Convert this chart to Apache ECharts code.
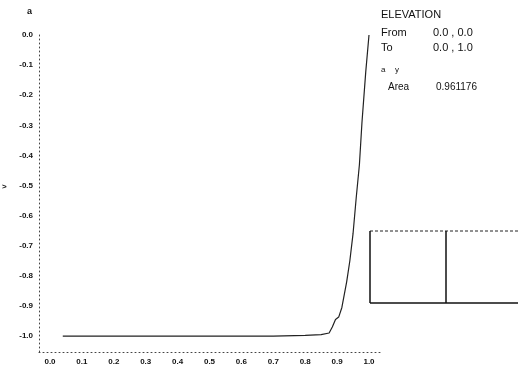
<!DOCTYPE html>
<html>
<head>
<meta charset="utf-8">
<script src="https://cdn.jsdelivr.net/npm/echarts@6/dist/echarts.min.js"></script>
<style>html,body{margin:0;padding:0;background:#fff;}#c{width:518px;height:370px;}</style>
</head>
<body>
<div id="c"></div>
<script>
// Data
var xValues = [0.04, 0.1, 0.2, 0.3, 0.4, 0.5, 0.6, 0.7, 0.8, 0.85, 0.875, 0.885, 0.895, 0.905, 0.915, 0.93, 0.94, 0.95, 0.96, 0.97, 0.978, 0.99, 1.0];
var elevation = [-1.0, -1.0, -1.0, -1.0, -1.0, -1.0, -1.0, -1.0, -0.998, -0.995, -0.99, -0.97, -0.945, -0.937, -0.905, -0.82, -0.75, -0.66, -0.54, -0.43, -0.29, -0.12, 0.0];
var xTicks = [0.0, 0.1, 0.2, 0.3, 0.4, 0.5, 0.6, 0.7, 0.8, 0.9, 1.0];
var yTicks = [0.0, -0.1, -0.2, -0.3, -0.4, -0.5, -0.6, -0.7, -0.8, -0.9, -1.0];
var infoTitle = 'ELEVATION';
var infoRows = [['From', '0.0 , 0.0'], ['To', '0.0 , 1.0']];
var infoSub = ['a', 'y'];
var areaLabel = 'Area';
var areaValue = '0.961176';

var chart = echarts.init(document.getElementById('c'), null, {renderer: 'canvas'});
var font = 'Liberation Sans, Arial, sans-serif';
var pts = xValues.map(function (x, i) { return [x, elevation[i]]; });

chart.setOption({
  animation: false,
  backgroundColor: '#fff',
  grid: {left: 39, right: 138, top: 35, bottom: 18, containLabel: false},
  xAxis: {
    type: 'value', min: -0.0345, max: 1.0345,
    axisLine: {show: true, onZero: false, lineStyle: {color: '#444', type: [1, 3], width: 1}},
    axisTick: {show: false},
    splitLine: {show: false},
    axisLabel: {
      customValues: xTicks, margin: 6, color: '#111', fontSize: 8, fontWeight: 'bold', fontFamily: font,
      formatter: function (v) { return v.toFixed(1); }
    }
  },
  yAxis: {
    type: 'value', min: -1.053, max: 0.0,
    axisLine: {show: true, onZero: false, lineStyle: {color: '#444', type: [1, 3], width: 1}},
    axisTick: {show: false},
    splitLine: {show: false},
    axisLabel: {
      customValues: yTicks, margin: 6, color: '#111', fontSize: 8, fontWeight: 'bold', fontFamily: font,
      formatter: function (v) { return v.toFixed(1); }
    }
  },
  series: [{
    type: 'line', data: pts, showSymbol: false, smooth: false,
    lineStyle: {color: '#222', width: 1.2}
  }],
  graphic: [
    {type: 'text', left: 27, top: 7, style: {text: 'a', font: 'bold 9px ' + font, fill: '#111'}},
    {type: 'text', left: 2, top: 183, style: {text: '>', font: 'bold 8px ' + font, fill: '#111'}},
    {type: 'text', left: 381, top: 9, style: {text: infoTitle, font: '11px ' + font, fill: '#111'}},
    {type: 'text', left: 381, top: 27, style: {text: infoRows[0][0], font: '11px ' + font, fill: '#111'}},
    {type: 'text', left: 433, top: 27, style: {text: infoRows[0][1], font: '11px ' + font, fill: '#111'}},
    {type: 'text', left: 381, top: 42, style: {text: infoRows[1][0], font: '11px ' + font, fill: '#111'}},
    {type: 'text', left: 433, top: 42, style: {text: infoRows[1][1], font: '11px ' + font, fill: '#111'}},
    {type: 'text', left: 381, top: 66, style: {text: infoSub[0], font: '8px ' + font, fill: '#111'}},
    {type: 'text', left: 395, top: 66, style: {text: infoSub[1], font: '8px ' + font, fill: '#111'}},
    {type: 'text', left: 388, top: 82, style: {text: areaLabel, font: '10px ' + font, fill: '#111'}},
    {type: 'text', left: 436, top: 82, style: {text: areaValue, font: '10px ' + font, fill: '#111'}},
    {type: 'line', shape: {x1: 370, y1: 231, x2: 518, y2: 231}, style: {stroke: '#222', lineWidth: 1, lineDash: [3, 2]}},
    {type: 'line', shape: {x1: 370, y1: 231, x2: 370, y2: 303}, style: {stroke: '#111', lineWidth: 1.5}},
    {type: 'line', shape: {x1: 446, y1: 231, x2: 446, y2: 303}, style: {stroke: '#111', lineWidth: 1.5}},
    {type: 'line', shape: {x1: 370, y1: 303, x2: 518, y2: 303}, style: {stroke: '#111', lineWidth: 1.5}}
  ]
});
</script>
</body>
</html>
